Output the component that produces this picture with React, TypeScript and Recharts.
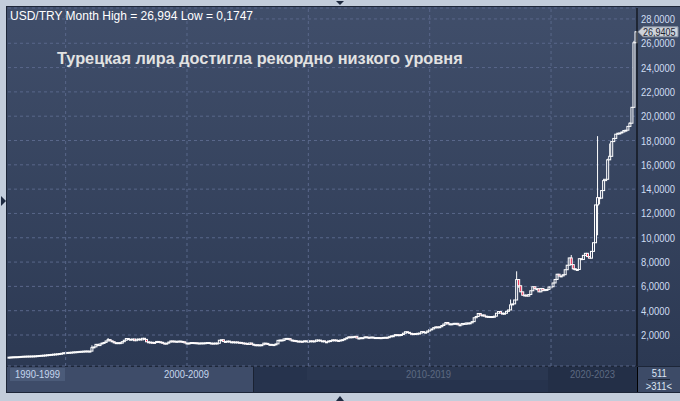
import { ComposedChart, Bar, XAxis, YAxis, CartesianGrid, ReferenceLine } from 'recharts';

// USD/TRY monthly, Sep 1997 .. Jul 2023 (311 bars)
const startYear = 1997;
const startMonth = 9;
const firstOpen = 0.1747;
const lastPrice = 26.9405;
const totalBars = 511;

const closes = [
  0.178, 0.192, 0.205, 0.213,
  0.216, 0.225, 0.238, 0.250, 0.257, 0.265, 0.268, 0.273, 0.278, 0.286, 0.302, 0.315,
  0.327, 0.340, 0.355, 0.374, 0.390, 0.405, 0.425, 0.440, 0.455, 0.475, 0.500, 0.540,
  0.550, 0.565, 0.575, 0.590, 0.610, 0.620, 0.635, 0.650, 0.660, 0.675, 0.685, 0.675,
  0.675, 0.960, 1.020, 1.230, 1.130, 1.260, 1.340, 1.390, 1.510, 1.620, 1.520, 1.450,
  1.350, 1.370, 1.370, 1.330, 1.450, 1.570, 1.710, 1.650, 1.650, 1.670, 1.530, 1.650,
  1.670, 1.600, 1.730, 1.640, 1.440, 1.420, 1.400, 1.390, 1.380, 1.470, 1.440, 1.400,
  1.330, 1.310, 1.330, 1.420, 1.510, 1.500, 1.430, 1.480, 1.500, 1.470, 1.440, 1.340,
  1.340, 1.300, 1.380, 1.370, 1.360, 1.340, 1.340, 1.350, 1.350, 1.360, 1.380, 1.340,
  1.330, 1.310, 1.340, 1.320, 1.570, 1.610, 1.460, 1.470, 1.500, 1.430, 1.440, 1.410,
  1.430, 1.400, 1.390, 1.350, 1.330, 1.310, 1.220, 1.340, 1.240, 1.180, 1.200, 1.170,
  1.190, 1.200, 1.330, 1.310, 1.220, 1.230, 1.160, 1.210, 1.270, 1.560, 1.590, 1.540,
  1.680, 1.720, 1.700, 1.590, 1.560, 1.540, 1.470, 1.500, 1.480, 1.450, 1.520, 1.500,
  1.500, 1.520, 1.510, 1.480, 1.590, 1.580, 1.510, 1.520, 1.440, 1.430, 1.510, 1.540,
  1.600, 1.590, 1.550, 1.520, 1.590, 1.620, 1.690, 1.770, 1.850, 1.780, 1.860, 1.890,
  1.750, 1.750, 1.780, 1.780, 1.850, 1.810, 1.800, 1.830, 1.790, 1.790, 1.790, 1.780,
  1.760, 1.800, 1.810, 1.790, 1.860, 1.930, 1.940, 2.030, 2.020, 1.990, 2.040, 2.150,
  2.270, 2.220, 2.140, 2.110, 2.080, 2.120, 2.140, 2.160, 2.280, 2.230, 2.230, 2.330,
  2.440, 2.500, 2.610, 2.670, 2.660, 2.680, 2.780, 2.900, 3.030, 2.920, 2.920, 2.920,
  2.960, 2.960, 2.840, 2.830, 2.950, 2.880, 2.990, 2.950, 3.000, 3.100, 3.420, 3.520,
  3.770, 3.640, 3.650, 3.550, 3.530, 3.510, 3.520, 3.460, 3.550, 3.790, 3.930, 3.800,
  3.760, 3.790, 3.950, 4.060, 4.480, 4.560, 4.880, 6.560, 6.050, 5.550, 5.270, 5.290,
  5.200, 5.330, 5.640, 5.970, 5.810, 5.810, 5.550, 5.830, 5.650, 5.740, 5.750, 5.950,
  5.970, 6.280, 6.570, 7.000, 6.850, 6.860, 6.960, 7.370, 7.740, 8.340, 7.790, 7.450,
  7.380, 7.390, 8.280, 8.210, 8.550, 8.720, 8.450, 8.320, 8.880, 9.590, 12.700, 13.300,
  13.260, 13.880, 14.700, 14.810, 16.410, 16.700, 17.910, 18.170, 18.520, 18.600, 18.620, 18.700,
  18.820, 18.850, 19.160, 19.420, 20.730, 26.040, lastPrice,
];

// visible intramonth extremes
const wickHighs: Record<string, number> = {
  '2001-02': 1.15, '2001-10': 1.75, '2018-08': 7.24, '2018-05': 4.92,
  '2020-11': 8.58, '2021-12': 18.36, '2022-03': 14.85, '2022-05': 16.5,
  '2022-06': 17.75, '2023-04': 19.5, '2023-06': 26.2, '2023-07': 26.994,
};
const wickLows: Record<string, number> = {
  '2018-09': 5.88, '2021-12': 10.2, '2022-01': 12.75, '2020-12': 7.35,
};

const yTicks = [2, 4, 6, 8, 10, 12, 14, 16, 18, 20, 22, 24, 26, 28];
const gridYears = ['2000-01', '2005-01', '2010-01', '2015-01', '2020-01'];
const decades = ['1990-1999', '2000-2009', '2010-2019', '2020-2023'];

const data = closes.map((close, i) => {
  const mi = startMonth - 1 + i;
  const m = `${startYear + Math.floor(mi / 12)}-${String((mi % 12) + 1).padStart(2, '0')}`;
  const open = i === 0 ? firstOpen : closes[i - 1];
  const high = Math.max(open, close, wickHighs[m] ?? 0);
  const low = Math.min(open, close, wickLows[m] ?? Infinity);
  return { m, open, close, high, low, range: [low, high] };
});

const sans = "'Liberation Sans', Arial, sans-serif";
const fmt = (v: number) => v.toFixed(4).replace('.', ',');

// narrow-looking text (the original uses a condensed UI font)
const Narrow = ({ children, color }: any) => (
  <span style={{ display: 'inline-block', transform: 'scaleX(0.82)', color, whiteSpace: 'nowrap' }}>{children}</span>
);

const Candle = (props: any) => {
  let { x, y, width, height } = props;
  const { open, close, high, low } = props.payload;
  if (height < 0) {
    y += height;
    height = -height;
  }
  const cx = x + width / 2;
  const k = high === low ? 0 : height / (high - low);
  const top = y + (high - Math.max(open, close)) * k;
  const bot = y + (high - Math.min(open, close)) * k;
  const up = close >= open;
  return (
    <g>
      <line x1={cx} x2={cx} y1={y} y2={y + height} stroke="#ffffff" strokeWidth={1} />
      <rect
        x={x}
        y={top}
        width={width}
        height={Math.max(bot - top, 1)}
        fill={up ? '#34415d' : '#e8163f'}
        stroke="#ffffff"
        strokeWidth={1}
      />
    </g>
  );
};

const YTick = (props: any) => {
  const { x, y, payload } = props;
  return (
    <text transform={`translate(${x},${y + 4}) scale(0.82,1)`} style={{ fontFamily: sans, fontSize: 11.5 }} fill="#cfdcf2">
      {fmt(payload.value)}
    </text>
  );
};

const PriceTag = (props: any) => {
  const { viewBox } = props;
  const x = viewBox.x + viewBox.width + 1;
  const y = viewBox.y;
  return (
    <g>
      <polygon
        points={`${x},${y} ${x + 5},${y - 5} ${x + 40},${y - 5} ${x + 40},${y + 5} ${x + 5},${y + 5}`}
        fill="#cdd2da"
        stroke="#8a93a3"
      />
      <text transform={`translate(${x + 5},${y + 4}) scale(0.82,1)`} style={{ fontFamily: sans, fontSize: 11 }} fill="#1a2233">
        {fmt(lastPrice)}
      </text>
    </g>
  );
};

const navLabel = { position: 'absolute' as const, top: 367, fontSize: 11.5, textAlign: 'center' as const, lineHeight: '15px' };

export default function App() {
  return (
    <div style={{ position: 'absolute', left: 0, top: 0, width: 680, height: 401, background: '#c3cddb', overflow: 'hidden', fontFamily: sans }}>
      {/* frame line + chart background */}
      <div style={{ position: 'absolute', left: 6, top: 6, width: 674, height: 387, background: '#1d2638' }} />
      <div style={{ position: 'absolute', left: 7, top: 7, width: 673, height: 359, background: 'linear-gradient(#404e6a, #2c3953)' }} />
      {/* navigator band */}
      <div style={{ position: 'absolute', left: 7, top: 367, width: 630, height: 25, background: '#3e4c69' }} />
      <div style={{ position: 'absolute', left: 10, top: 368, width: 55, height: 13, background: '#4b5b79' }} />
      <div style={{ position: 'absolute', left: 253, top: 367, width: 384, height: 25, background: '#26334d', borderLeft: '1px solid #1a2232' }} />
      <div style={{ position: 'absolute', left: 307, top: 367, width: 330, height: 13, background: '#2a3751' }} />
      <div style={{ position: 'absolute', left: 548, top: 367, width: 89, height: 25, background: '#232f47' }} />
      <div style={{ position: 'absolute', left: 637, top: 367, width: 43, height: 25, background: '#3d4b67', borderLeft: '1px solid #000' }} />
      <div style={{ ...navLabel, left: 10, width: 55 }}><Narrow color="#c6d6ee">{decades[0]}</Narrow></div>
      <div style={{ ...navLabel, left: 65, width: 242 }}><Narrow color="#c6d6ee">{decades[1]}</Narrow></div>
      <div style={{ ...navLabel, left: 307, width: 242 }}><Narrow color="#5d6a82">{decades[2]}</Narrow></div>
      <div style={{ ...navLabel, left: 548, width: 89 }}><Narrow color="#5d6a82">{decades[3]}</Narrow></div>
      <div style={{ position: 'absolute', left: 638, top: 367, width: 42, fontSize: 11.5, textAlign: 'center', lineHeight: '12px' }}>
        <div><Narrow color="#dce6f4">{totalBars}</Narrow></div>
        <div style={{ width: 22, margin: '0 auto', borderTop: '1px solid #1d2638' }} />
        <div><Narrow color="#dce6f4">&gt;{closes.length}&lt;</Narrow></div>
      </div>
      {/* scroll markers */}
      <svg width={680} height={401} style={{ position: 'absolute', left: 0, top: 0 }}>
        <polygon points="336,1 344,1 340,5" fill="#1e2a40" />
        <polygon points="1,196 6,201 1,206" fill="#1e2a40" />
        <polygon points="336,401 344,401 340,396" fill="#1e2a40" />
      </svg>
      <div style={{ position: 'absolute', left: 0, top: 0 }}>
        <ComposedChart width={680} height={401} data={data} margin={{ top: 8, right: 0, bottom: 35, left: 8 }} barCategoryGap={0}>
          <CartesianGrid vertical={false} stroke="#59678a" strokeDasharray="3 3" />
          <XAxis dataKey="m" hide />
          <YAxis
            orientation="right"
            width={43}
            domain={[-0.55, 28.9]}
            ticks={yTicks}
            allowDataOverflow
            interval={0}
            axisLine={{ stroke: '#000000' }}
            tickLine={false}
            tickSize={2}
            tickMargin={2}
            tick={<YTick />}
          />
          {gridYears.map((g) => (
            <ReferenceLine key={g} x={g} stroke="#59678a" strokeDasharray="3 3" />
          ))}
          <Bar dataKey="range" shape={<Candle />} isAnimationActive={false} />
          <ReferenceLine y={lastPrice} stroke="none" ifOverflow="visible" label={<PriceTag />} />
        </ComposedChart>
      </div>
      <div style={{ position: 'absolute', left: 10, top: 9, fontSize: 12, color: '#ffffff', whiteSpace: 'nowrap' }}>
        USD/TRY Month High = 26,994 Low = 0,1747
      </div>
      <div style={{ position: 'absolute', left: 57, top: 49, fontSize: 16.3, fontWeight: 'bold', color: '#e2e2e2', whiteSpace: 'nowrap' }}>
        Турецкая лира достигла рекордно низкого уровня
      </div>
    </div>
  );
}
